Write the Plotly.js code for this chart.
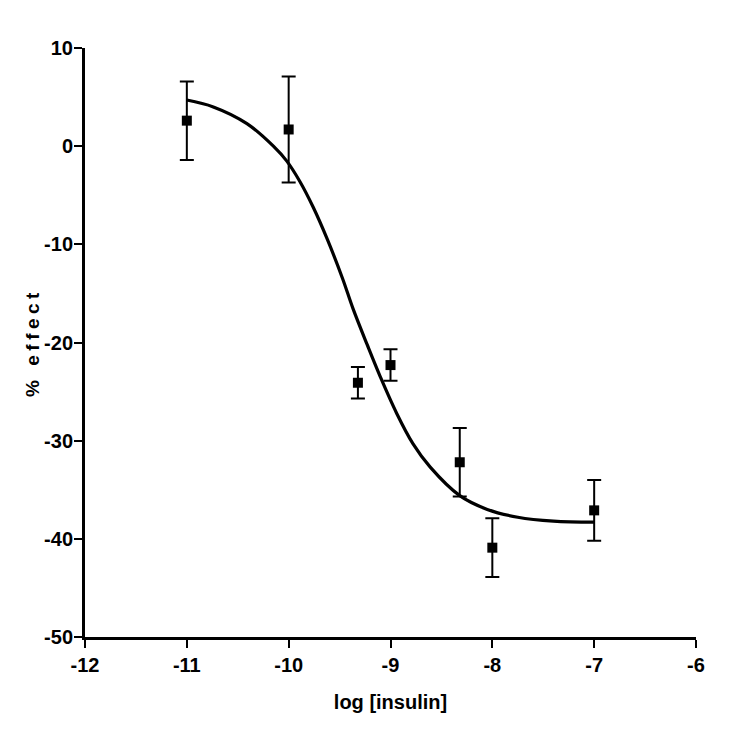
<!DOCTYPE html>
<html>
<head>
<meta charset="utf-8">
<script src="https://cdn.plot.ly/plotly-3.0.1.min.js"></script>
<style>
html,body{margin:0;padding:0;background:#fff;}
#chart{width:750px;height:750px;}
.ytitle{letter-spacing:4.5px;}
</style>
</head>
<body>
<div id="chart"></div>
<script>
// Measured points (log concentration, mean % effect, SEM)
var logConc = [-11, -10, -9.32, -9, -8.32, -8, -7];
var effect = [2.6, 1.7, -24.1, -22.3, -32.2, -40.9, -37.1];
var sem = [4.0, 5.4, 1.6, 1.6, 3.5, 3.0, 3.1];

// Fitted curve
var curveX = [-11.0, -10.74, -10.41, -10.15, -10.02, -9.89, -9.76, -9.62, -9.47, -9.37, -9.23, -9.10, -8.94, -8.78, -8.61, -8.32, -8.05, -7.75, -7.40, -7.00];
var curveY = [4.7, 4.0, 2.3, 0.0, -1.5, -3.6, -6.2, -9.5, -13.5, -16.5, -20.2, -23.5, -27.2, -30.3, -32.7, -35.6, -37.0, -37.8, -38.2, -38.3];

var xTicks = [-12, -11, -10, -9, -8, -7, -6];
var xTickText = ['-12', '-11', '-10', '-9', '-8', '-7', '-6'];
var yTicks = [10, 0, -10, -20, -30, -40, -50];
var yTickText = ['10', '0', '-10', '-20', '-30', '-40', '-50'];

var fontFam = '"Liberation Sans", Arial, sans-serif';

var traces = [
  {
    x: curveX, y: curveY, type: 'scatter', mode: 'lines',
    line: {color: '#000', width: 3.2, shape: 'spline', smoothing: 1},
    hoverinfo: 'skip', showlegend: false
  },
  {
    x: logConc, y: effect, type: 'scatter', mode: 'markers',
    marker: {symbol: 'square', size: 10, color: '#000'},
    error_y: {type: 'data', array: sem, visible: true, color: '#000', thickness: 2, width: 7},
    showlegend: false
  }
];

var layout = {
  width: 750, height: 750,
  paper_bgcolor: '#fff', plot_bgcolor: '#fff',
  margin: {l: 85, r: 54, t: 48, b: 113},
  font: {family: fontFam, color: '#000'},
  showlegend: false,
  xaxis: {
    range: [-12, -6], tickvals: xTicks, ticktext: xTickText,
    showline: true, linecolor: '#000', linewidth: 3,
    ticks: 'outside', ticklen: 8, tickwidth: 2, tickcolor: '#000',
    showgrid: false, zeroline: false,
    tickfont: {family: fontFam, size: 20, color: '#000', weight: 'bold'},
    title: {text: 'log [insulin]', font: {family: fontFam, size: 20, color: '#000', weight: 'bold'}, standoff: 20}
  },
  yaxis: {
    range: [-50, 10], tickvals: yTicks, ticktext: yTickText,
    showline: true, linecolor: '#000', linewidth: 3,
    ticks: 'outside', ticklen: 8, tickwidth: 2, tickcolor: '#000',
    showgrid: false, zeroline: false,
    ticklabelstandoff: -3,
    tickfont: {family: fontFam, size: 20, color: '#000', weight: 'bold'},
    title: {text: '% effect', font: {family: fontFam, size: 19, color: '#000', weight: 'bold'}, standoff: 0}
  }
};

Plotly.newPlot('chart', traces, layout, {staticPlot: true, displayModeBar: false});
</script>
</body>
</html>
